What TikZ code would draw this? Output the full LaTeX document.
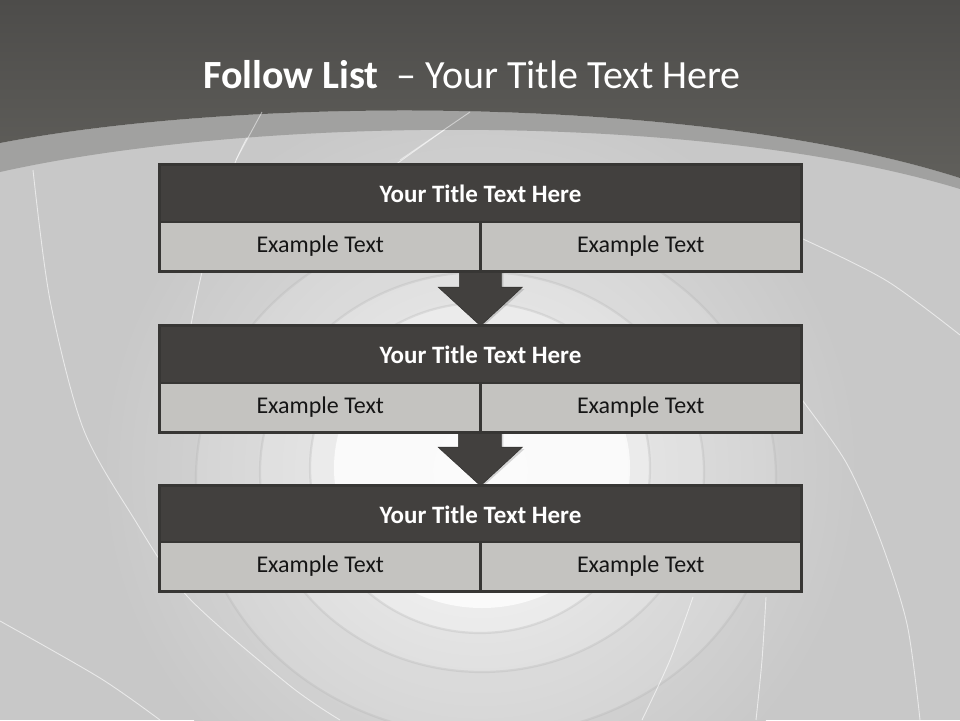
\documentclass[tikz,border=0pt]{standalone}
\usepackage{fontspec}
\setmainfont{Carlito}
\usetikzlibrary{calc}
\definecolor{topdarkA}{HTML}{4D4C4A}
\definecolor{topdarkB}{HTML}{605F5B}
\definecolor{bandgray}{HTML}{A1A1A0}
\definecolor{bglight}{HTML}{C8C8C8}
\definecolor{boxdark}{HTML}{42403E}
\definecolor{boxline}{HTML}{373634}
\definecolor{cellfill}{HTML}{C4C3C0}
\definecolor{textdark}{HTML}{151515}
\tikzset{
  titlebar/.style={fill=boxdark, text=white, inner sep=0pt, minimum width=641pt, minimum height=57pt,
    font=\fontsize{25}{30}\selectfont\bfseries},
  cellbox/.style={fill=cellfill, text=textdark, inner sep=0pt, minimum width=320.5pt, minimum height=49pt,
    font=\fontsize{24}{29}\selectfont},
  frame/.style={draw=boxline, line width=3pt},
  divider/.style={draw=boxline, line width=2.5pt},
  blockarrow/.style={fill=boxdark, draw=boxline, line width=0.6pt, line join=miter},
  ringedge/.style={draw=black!30, draw opacity=0.3, line width=2.2pt},
  spiral/.style={draw=white, draw opacity=0.6, line width=0.9pt},
}
\begin{document}
\begin{tikzpicture}[x=1pt,y=-1pt]
\useasboundingbox (0,0) rectangle (960,720);
% background
\fill[bglight] (0,0) rectangle (960,720);
\shade[inner color=white!55!bglight, outer color=bglight] (480,470) circle (380pt);
% spiral rings (brightness steps)
\fill[white, fill opacity=0.12] (486,478) ellipse [x radius=290pt, y radius=258pt];
\draw[ringedge] (486,478) ellipse [x radius=290pt, y radius=258pt];
\fill[white, fill opacity=0.18] (482,472) ellipse [x radius=222pt, y radius=200pt];
\draw[ringedge] (482,472) ellipse [x radius=222pt, y radius=200pt];
\fill[white, fill opacity=0.3] (480,468) ellipse [x radius=170pt, y radius=165pt];
\draw[ringedge] (480,468) ellipse [x radius=170pt, y radius=165pt];
\fill[white, fill opacity=0.75] (482,468) ellipse [x radius=148pt, y radius=140pt];
% thin white spiral lines
\draw[spiral] plot[smooth] coordinates {(262,112) (235,163) (205,260) (190,330)};
\draw[spiral] plot[smooth] coordinates {(470,112) (430,140) (395,165)};
\draw[spiral] plot[smooth] coordinates {(33,170) (50,300) (83,428) (133,517) (188,597) (289,685) (340,720)};
\draw[spiral] plot[smooth] coordinates {(0,621) (100,678) (160,720)};
\draw[spiral] plot[smooth] coordinates {(760,222) (803,239) (887,281) (960,335)};
\draw[spiral] plot[smooth] coordinates {(790,385) (803,401) (847,464) (880,539) (907,624) (920,720)};
\draw[spiral] plot[smooth] coordinates {(766,597) (762,660) (756,720)};
\draw[spiral] plot[smooth] coordinates {(693,597) (670,660) (642,720)};
% top dark area and band
\fill[bandgray] (0,143) .. controls (250,95) and (700,95) .. (960,178) -- (960,189)
   .. controls (700,110) and (250,116) .. (0,172) -- cycle;
\shade[top color=topdarkA, bottom color=topdarkB] (0,0) -- (960,0) -- (960,178)
   .. controls (700,95) and (250,95) .. (0,143) -- cycle;
\draw[white, draw opacity=0.5, line width=0.9pt] (262,112) -- (236,160);
\draw[white, draw opacity=0.5, line width=0.9pt] (470,112) -- (400,160);
% title
\node[anchor=base west, text=white, inner sep=0pt, font=\fontsize{40}{48}\selectfont] (title) at (203,88)
  {\textbf{Follow List}\ \ – Your Title Text Here};
% boxes
\node[titlebar] (t1) at (480.5,193.5) {Your Title Text Here};
\node[cellbox] (l1) at (320.25,246.5) {Example Text};
\node[cellbox] (r1) at (640.75,246.5) {Example Text};
\node[titlebar] (t2) at (480.5,354.5) {Your Title Text Here};
\node[cellbox] (l2) at (320.25,407.5) {Example Text};
\node[cellbox] (r2) at (640.75,407.5) {Example Text};
\node[titlebar] (t3) at (480.5,514.5) {Your Title Text Here};
\node[cellbox] (l3) at (320.25,566.5) {Example Text};
\node[cellbox] (r3) at (640.75,566.5) {Example Text};
% block arrows (box to box)
\coordinate (a1) at (r1.south west);
\coordinate (a2) at (r2.south west);
\fill[black, fill opacity=0.15] ($(a1)+(-19,0)$) -- ($(a1)+(-19,18)$) -- ($(a1)+(-40,18)$) -- ($(t2.north)+(2,1)$)
  -- ($(a1)+(44,18)$) -- ($(a1)+(23,18)$) -- ($(a1)+(23,0)$) -- cycle;
\filldraw[blockarrow] ($(a1)+(-21,0)$) -- ($(a1)+(-21,16)$) -- ($(a1)+(-42,16)$) -- (t2.north)
  -- ($(a1)+(42,16)$) -- ($(a1)+(21,16)$) -- ($(a1)+(21,0)$) -- cycle;
\fill[black, fill opacity=0.15] ($(a2)+(-20,0)$) -- ($(a2)+(-20,17)$) -- ($(a2)+(-41,17)$) -- ($(t3.north)+(2,1)$)
  -- ($(a2)+(44,17)$) -- ($(a2)+(23,17)$) -- ($(a2)+(23,0)$) -- cycle;
\filldraw[blockarrow] ($(a2)+(-22,0)$) -- ($(a2)+(-22,15)$) -- ($(a2)+(-42,15)$) -- (t3.north)
  -- ($(a2)+(42,15)$) -- ($(a2)+(21,15)$) -- ($(a2)+(21,0)$) -- cycle;
% frames and dividers
\foreach \i in {1,2,3}{
  \draw[divider] (l\i.north west) -- (r\i.north east);
  \draw[divider] (r\i.north west) -- (r\i.south west);
  \draw[frame] (t\i.north west) rectangle (r\i.south east);
}
\end{tikzpicture}
\end{document}
